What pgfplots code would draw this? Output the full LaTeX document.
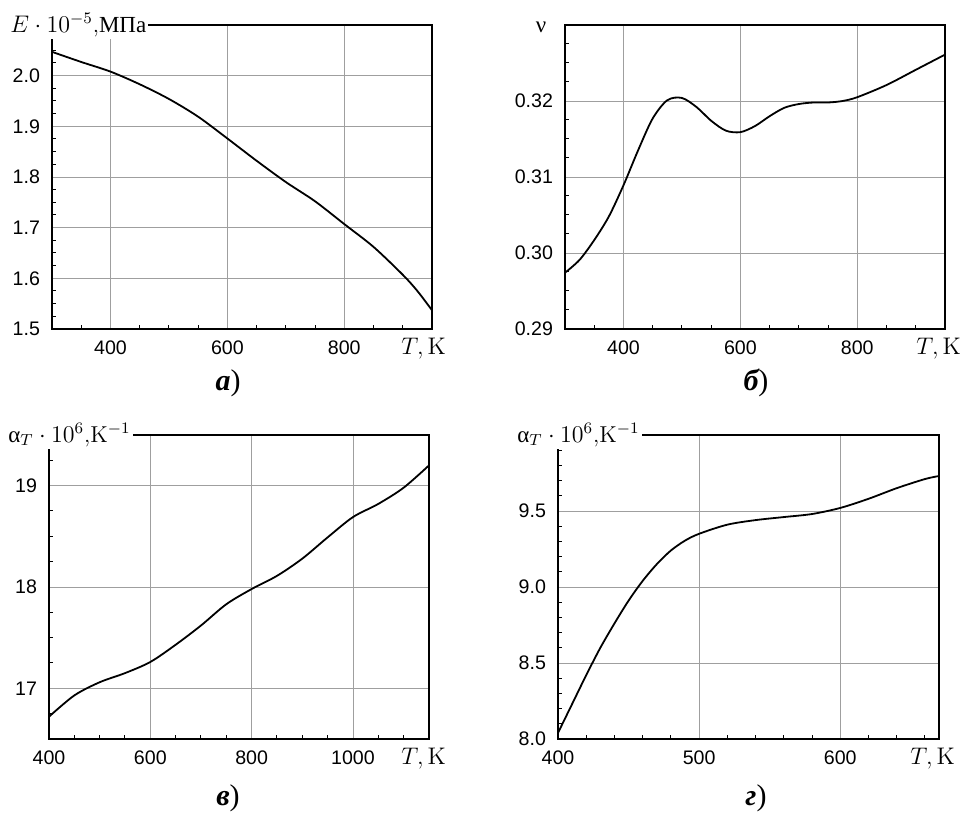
\documentclass[border=0pt]{standalone}
\usepackage{fontspec}
\usepackage{pgfplots}
\pgfplotsset{compat=1.18}
\newfontfamily\cyr{Liberation Serif}
\newfontfamily\sans{Liberation Sans}

\pgfplotstableread{
T E
300 2.047
350 2.027
400 2.008
450 1.983
500 1.954
550 1.919
600 1.876
650 1.832
700 1.790
750 1.752
800 1.707
850 1.662
900 1.607
925 1.575
950 1.537
}\tabE

\pgfplotstableread{
T nu
300 0.2974
325 0.2991
350 0.3017
375 0.3048
400 0.3089
425 0.3135
450 0.3177
475 0.3201
500 0.3204
525 0.3192
550 0.3174
575 0.3161
600 0.3159
625 0.3167
650 0.3180
675 0.3191
700 0.3196
725 0.3198
750 0.3198
775 0.3200
800 0.3205
850 0.3221
900 0.3241
950 0.3261
}\tabNu

\pgfplotstableread{
T a
400 16.72
450 16.93
500 17.06
550 17.15
600 17.26
650 17.43
700 17.62
750 17.83
800 17.98
850 18.11
900 18.28
950 18.49
1000 18.69
1050 18.82
1100 18.98
1150 19.20
}\tabAc

\pgfplotstableread{
T a
400 8.04
410 8.23
420 8.42
430 8.60
440 8.76
450 8.91
460 9.04
470 9.15
480 9.24
490 9.305
500 9.35
520 9.41
540 9.44
560 9.46
580 9.48
600 9.52
620 9.58
640 9.65
660 9.71
670 9.73
}\tabAd

\tikzset{
  lbl/.style={font=\fontsize{11.5}{13}\selectfont},
  tk/.style={font=\fontsize{12}{14}\selectfont},
  subcap/.style={font=\fontsize{15}{17}\selectfont},
}
\pgfplotsset{
  panel/.style={
    scale only axis, width=190pt, height=152pt,
    anchor=south west,
    axis line style={line width=0.6pt},
    tick align=inside, tick pos=left,
    grid=major, major grid style={gray!75, line width=0.4pt},
    major tick length=0pt, minor tick length=2.2pt,
    minor tick style={line width=0.5pt, black},
    ticklabel style={font=\sans\fontsize{9.8}{11}\selectfont},
    yticklabel style={xshift=-2.5pt},
    xticklabel style={yshift=-2.5pt},
    /pgf/number format/assume math mode=true,
    /pgf/number format/1000 sep={},
    clip=false,
  },
  curve/.style={black, line width=0.9pt, smooth, no markers},
}

\begin{document}
\begin{tikzpicture}
\path (0,0) rectangle (485pt,408pt);

% а) modulus
\begin{axis}[panel, at={(26pt,243.5pt)},
  xmin=300, xmax=950, ymin=1.5, ymax=2.1,
  xtick={400,600,800},
  minor xtick={350,450,500,550,650,700,750,850,900},
  ytick={1.5,1.6,1.7,1.8,1.9,2.0},
  minor ytick={1.525,1.55,1.575,1.625,1.65,1.675,1.725,1.75,1.775,1.825,1.85,1.875,1.925,1.95,1.975,2.025,2.05,2.075},
  yticklabel style={/pgf/number format/.cd, fixed, fixed zerofill, precision=1},
]
\addplot[curve] table[x=T, y=E] {\tabE};
\node[lbl, anchor=west, fill=white, inner sep=1pt, xshift=-22pt] at (rel axis cs:0,1) {$E\cdot 10^{-5}$,{\cyr МПа}};
\node[tk, anchor=base east, xshift=10.5pt, yshift=-13pt] at (rel axis cs:1,0) {$T,\mathrm{K}$};
\end{axis}

% б) Poisson ratio
\begin{axis}[panel, at={(282.5pt,243.5pt)},
  xmin=300, xmax=950, ymin=0.29, ymax=0.33,
  xtick={400,600,800},
  minor xtick={350,450,500,550,650,700,750,850,900},
  ytick={0.29,0.30,0.31,0.32},
  minor ytick={0.2925,0.295,0.2975,0.3025,0.305,0.3075,0.3125,0.315,0.3175,0.3225,0.325,0.3275},
  yticklabel style={/pgf/number format/.cd, fixed, fixed zerofill, precision=2},
]
\addplot[curve] table[x=T, y=nu] {\tabNu};
\node[lbl, anchor=center, xshift=-12pt, yshift=-1pt] at (rel axis cs:0,1) {\cyr ν};
\node[tk, anchor=base east, xshift=11.5pt, yshift=-13pt] at (rel axis cs:1,0) {$T,\mathrm{K}$};
\end{axis}

% в) expansion, wide range
\begin{axis}[panel, at={(24.5pt,38.5pt)},
  xmin=400, xmax=1150, ymin=16.5, ymax=19.5,
  xtick={400,600,800,1000},
  minor xtick={450,500,550,650,700,750,850,900,950,1050,1100},
  ytick={17,18,19},
  minor ytick={16.75,17.25,17.5,17.75,18.25,18.5,18.75,19.25},
]
\addplot[curve] table[x=T, y=a] {\tabAc};
\node[lbl, anchor=west, fill=white, inner sep=1pt, xshift=-21.5pt] at (rel axis cs:0,1) {{\cyr α}$_T\cdot 10^{6}$,$\mathrm{K}^{-1}$};
\node[tk, anchor=base east, xshift=12pt, yshift=-13pt] at (rel axis cs:1,0) {$T,\mathrm{K}$};
\end{axis}

% г) expansion, narrow range
\begin{axis}[panel, at={(279pt,38.5pt)}, width=190.5pt,
  xmin=400, xmax=670, ymin=8.0, ymax=10.0,
  xtick={400,500,600},
  minor xtick={420,440,460,480,520,540,560,580,620,640,660},
  ytick={8.0,8.5,9.0,9.5},
  minor ytick={8.1,8.2,8.3,8.4,8.6,8.7,8.8,8.9,9.1,9.2,9.3,9.4,9.6,9.7,9.8,9.9},
  yticklabel style={/pgf/number format/.cd, fixed, fixed zerofill, precision=1},
]
\addplot[curve] table[x=T, y=a] {\tabAd};
\node[lbl, anchor=west, fill=white, inner sep=1pt, xshift=-21.5pt] at (rel axis cs:0,1) {{\cyr α}$_T\cdot 10^{6}$,$\mathrm{K}^{-1}$};
\node[tk, anchor=base east, xshift=11.5pt, yshift=-13pt] at (rel axis cs:1,0) {$T,\mathrm{K}$};
\end{axis}

\node[subcap] at (114pt,216.5pt) {{\cyr\bfseries\itshape а}{\cyr)}};
\node[subcap] at (378pt,216.5pt) {{\cyr\bfseries\itshape б}{\cyr)}};
\node[subcap] at (114pt,9pt) {{\cyr\bfseries\itshape в}{\cyr)}};
\node[subcap] at (378pt,9pt) {{\cyr\bfseries\itshape г}{\cyr)}};
\end{tikzpicture}
\end{document}
